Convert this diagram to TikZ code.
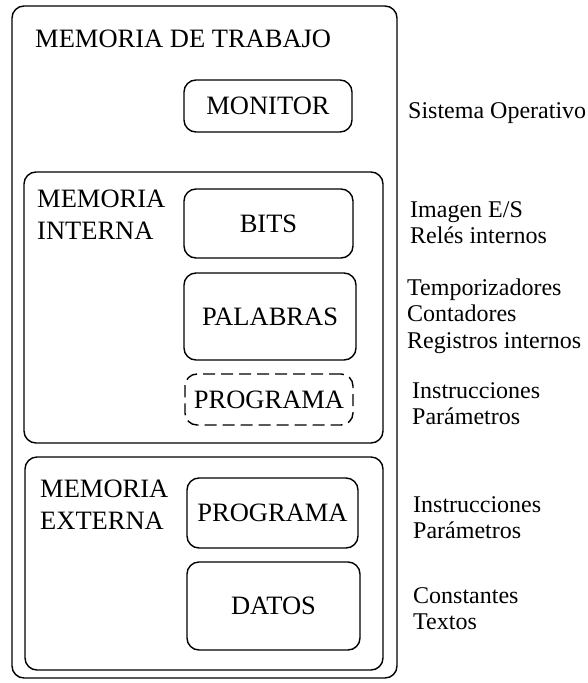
\documentclass[tikz,border=0pt]{standalone}
\usepackage{fontspec}
\setmainfont{Liberation Serif}
\begin{document}
\begin{tikzpicture}[x=1pt,y=-1pt,
  box/.style={draw, line width=1.4pt, rounded corners=12pt, inner sep=0pt},
  capfont/.style={font=\fontsize{26.5}{32}\selectfont, inner sep=0pt},
  caplbl/.style={capfont, align=left, anchor=north west},
  notefont/.style={font=\fontsize{24}{26.5}\selectfont, inner sep=0pt},
  note/.style={notefont, align=left, anchor=north west}]
\useasboundingbox (0,0) rectangle (587,683);
\fill[white] (0,0) rectangle (587,683);
% outer and group boxes
\node[box, minimum width=385pt, minimum height=672pt] (trabajo) at (204.5,342) {};
\node[box, minimum width=359pt, minimum height=271pt] (interna) at (203.5,307.5) {};
\node[box, minimum width=358pt, minimum height=213pt] (externa) at (204,563.5) {};
% group titles
\node[capfont, anchor=base west] (ttrabajo) at (35,47) {MEMORIA DE TRABAJO};
\node[caplbl] (tinterna) at (37,190) {MEMORIA\\INTERNA};
\node[caplbl] (texterna) at (40,480) {MEMORIA\\EXTERNA};
% inner boxes
\node[box, capfont, minimum width=168pt, minimum height=52pt] (monitor) at (268,106) {MONITOR};
\node[box, capfont, minimum width=169pt, minimum height=69pt] (bits) at (268.5,223.5) {BITS};
\node[box, capfont, minimum width=172pt, minimum height=87pt] (palabras) at (270,316.5) {PALABRAS};
\node[box, capfont, dash pattern=on 12pt off 6pt, minimum width=168pt, minimum height=51pt] (progint) at (269,399.5) {PROGRAMA};
\node[box, capfont, minimum width=171pt, minimum height=70pt] (progext) at (272.5,513) {PROGRAMA};
\node[box, capfont, minimum width=173pt, minimum height=88pt] (datos) at (273.5,606) {DATOS};
% notes
\node[notefont, anchor=base west] (nmonitor) at (408,118) {Sistema Operativo};
\node[note] (nbits) at (410,201) {Imagen E/S\\Relés internos};
\node[note] (npalabras) at (407,278.5) {Temporizadores\\Contadores\\Registros internos};
\node[note] (nprogint) at (412,382) {Instrucciones\\Parámetros};
\node[note] (nprogext) at (413,496) {Instrucciones\\Parámetros};
\node[note] (ndatos) at (413,587) {Constantes\\Textos};
\end{tikzpicture}
\end{document}
